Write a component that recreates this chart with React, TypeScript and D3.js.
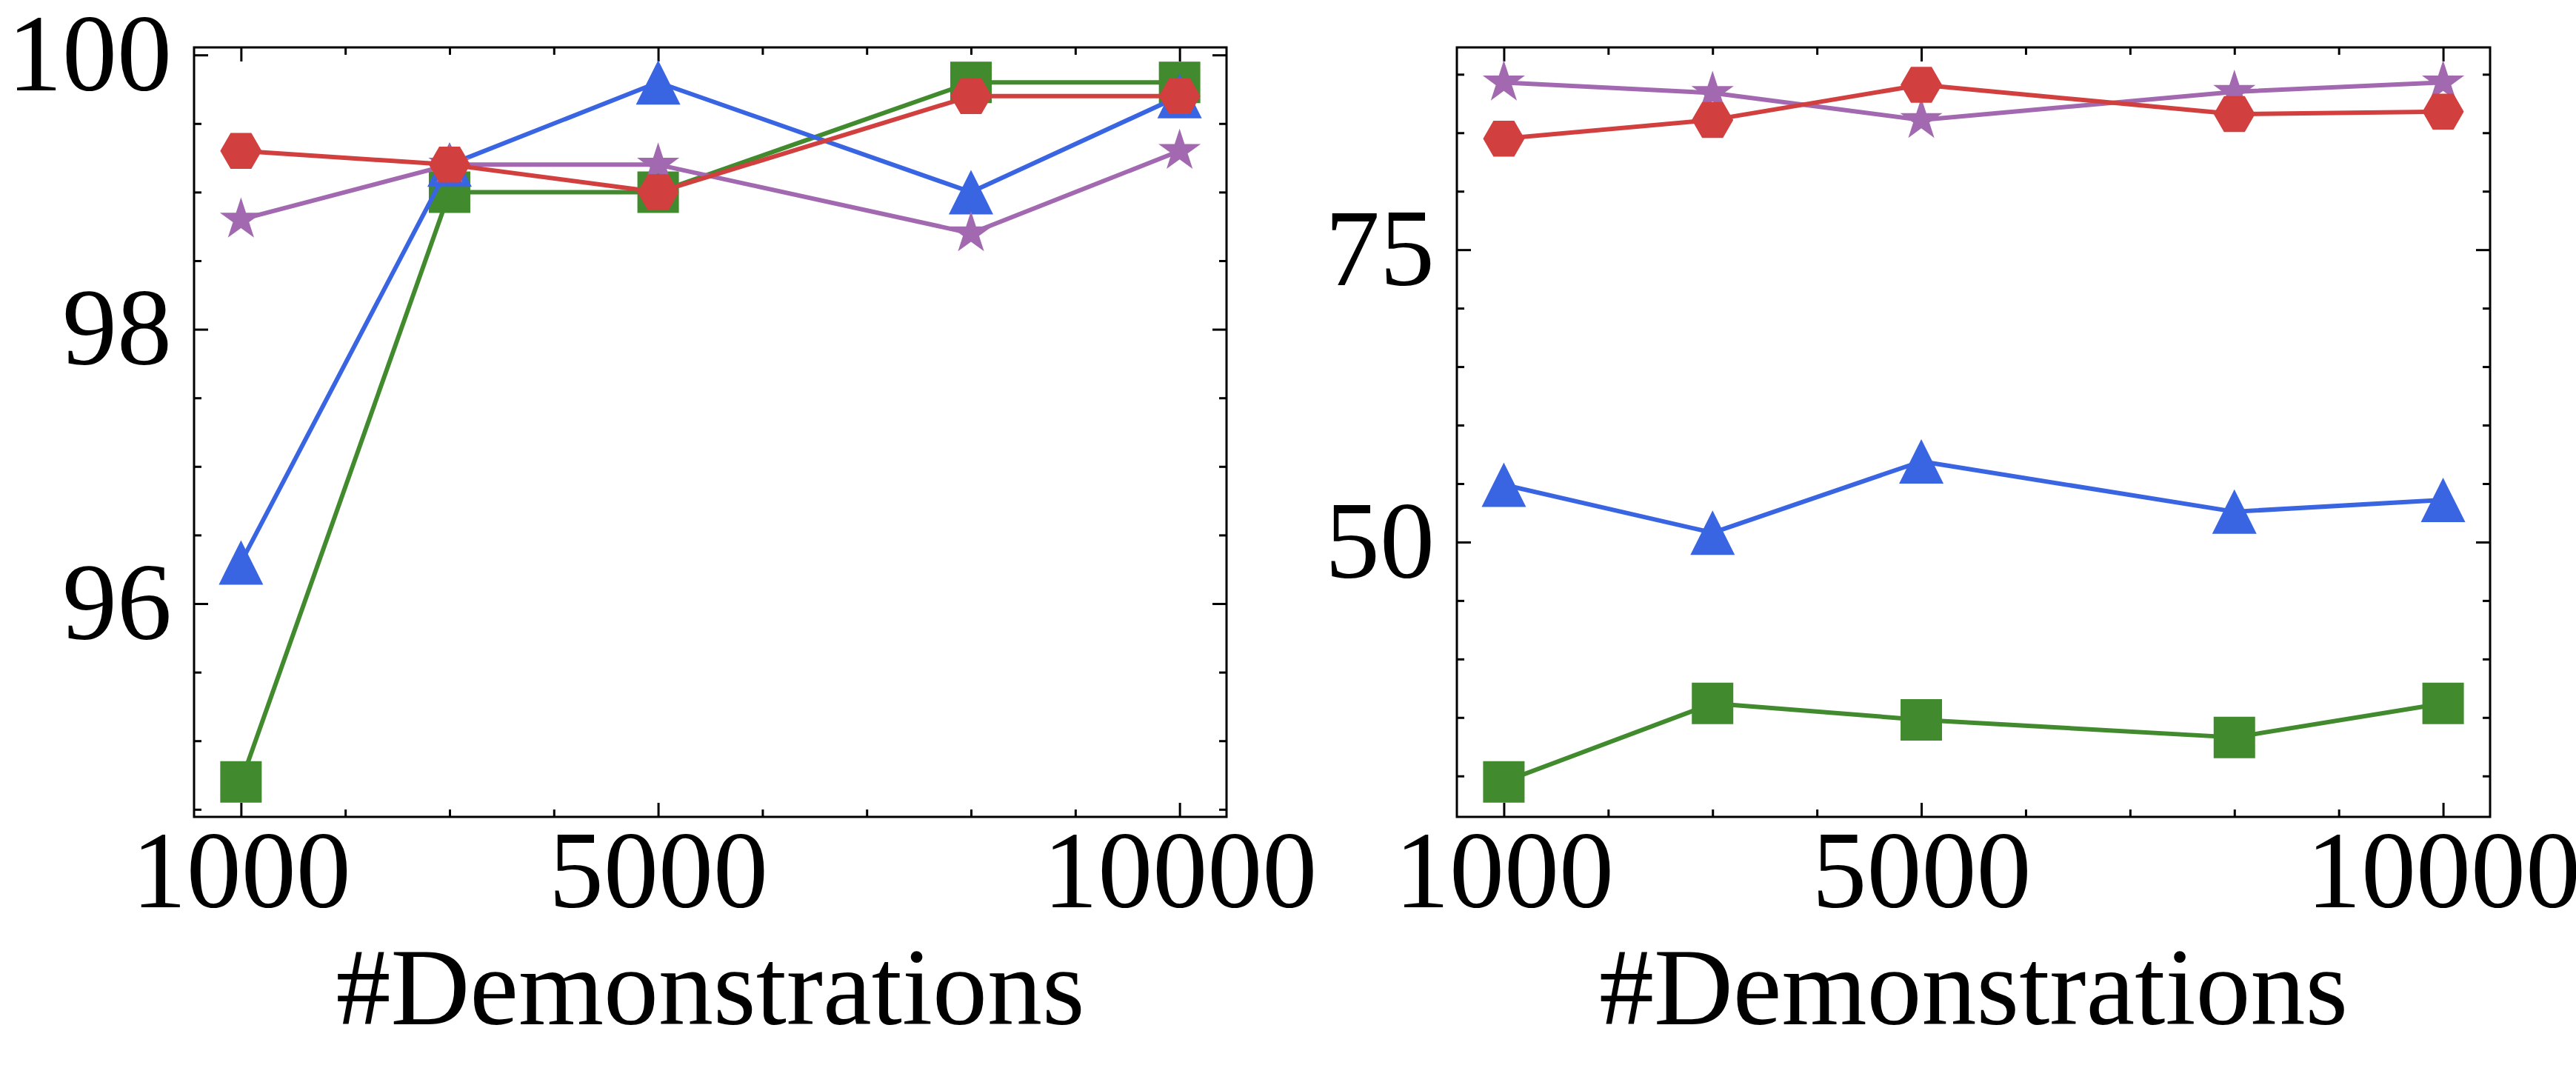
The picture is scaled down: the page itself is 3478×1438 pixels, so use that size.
import React, { useRef, useEffect } from 'react';
import * as d3 from 'd3';

// x values shared by both panels
const demonstrations = [1000, 3000, 5000, 8000, 10000];
const xTickLabels = [1000, 5000, 10000];

// left panel
const leftSquares = [94.7, 99.0, 99.0, 99.8, 99.8];
const leftTriangles = [96.3, 99.2, 99.8, 99.0, 99.7];
const leftStars = [98.8, 99.2, 99.2, 98.7, 99.3];
const leftHexagons = [99.3, 99.2, 99.0, 99.7, 99.7];
const leftYTicks = [96, 98, 100];

// right panel
const rightSquares = [29.5, 36.2, 34.8, 33.3, 36.2];
const rightTriangles = [54.9, 50.8, 56.9, 52.6, 53.6];
const rightStars = [89.3, 88.4, 86.1, 88.5, 89.3];
const rightHexagons = [84.5, 86.1, 89.1, 86.6, 86.8];
const rightYTicks = [50, 75];

const xLabel = '#Demonstrations';

const W = 3478;
const H = 1438;
const TOP = 64;
const BOTTOM = 1103;
const FONT = "'Liberation Serif', 'Times New Roman', Times, serif";

const colors = {
  square: '#428a2e',
  triangle: '#3a65e2',
  star: '#a269b0',
  hexagon: '#d13f3f',
};

// marker paths centred on 0,0
const markerPath = (shape: string) => {
  if (shape === 'square') return 'M-28,-28H28V28H-28Z';
  if (shape === 'triangle') return 'M0,-30L30,30L-30,30Z';
  if (shape === 'hexagon') {
    const pts = d3.range(6).map((i) => {
      const a = (i * Math.PI) / 3;
      return [28 * Math.cos(a), 28 * Math.sin(a)] as [number, number];
    });
    return d3.line()(pts) + 'Z';
  }
  // star
  const pts = d3.range(10).map((i) => {
    const r = i % 2 === 0 ? 30 : 30 * 0.382;
    const a = -Math.PI / 2 + (i * Math.PI) / 5;
    return [r * Math.cos(a), r * Math.sin(a)] as [number, number];
  });
  return d3.line()(pts) + 'Z';
};

const panels = [
  {
    left: 262,
    right: 1656,
    yDomain: [94.445, 100.055],
    yTicks: leftYTicks,
    yMinor: d3.range(94.5, 100.01, 0.5),
    series: [
      { shape: 'square', values: leftSquares },
      { shape: 'triangle', values: leftTriangles },
      { shape: 'star', values: leftStars },
      { shape: 'hexagon', values: leftHexagons },
    ],
  },
  {
    left: 1967,
    right: 3362,
    yDomain: [26.5, 92.3],
    yTicks: rightYTicks,
    yMinor: d3.range(30, 91, 5),
    series: [
      { shape: 'square', values: rightSquares },
      { shape: 'triangle', values: rightTriangles },
      { shape: 'star', values: rightStars },
      { shape: 'hexagon', values: rightHexagons },
    ],
  },
];

const App = () => {
  const ref = useRef(null);

  useEffect(() => {
    if (!ref.current) return;
    const svg = d3.select(ref.current);
    svg.selectAll('*').remove();
    svg.attr('width', W).attr('height', H);
    svg.append('rect').attr('width', W).attr('height', H).attr('fill', 'white');

    const xMinor = d3.range(1000, 10001, 1000);

    panels.forEach((p) => {
      const x = d3.scaleLinear().domain([550, 10450]).range([p.left, p.right]);
      const y = d3.scaleLinear().domain(p.yDomain).range([BOTTOM, TOP]);
      const g = svg.append('g');

      const styleAxis = (a: any) => {
        a.select('.domain').remove();
        a.selectAll('line').attr('stroke', 'black').attr('stroke-width', 3);
        a.selectAll('text')
          .attr('font-family', FONT)
          .attr('font-size', 148)
          .attr('fill', 'black');
      };

      // minor ticks
      const minorX = xMinor.filter((v) => !xTickLabels.includes(v));
      const minorY = p.yMinor.filter((v) => !p.yTicks.includes(v));
      g.append('g')
        .attr('transform', `translate(0,${BOTTOM})`)
        .call(d3.axisBottom(x).tickValues(minorX).tickSize(-10).tickSizeOuter(0).tickFormat(() => ''))
        .call(styleAxis);
      g.append('g')
        .attr('transform', `translate(0,${TOP})`)
        .call(d3.axisTop(x).tickValues(minorX).tickSize(-10).tickSizeOuter(0).tickFormat(() => ''))
        .call(styleAxis);
      g.append('g')
        .attr('transform', `translate(${p.left},0)`)
        .call(d3.axisLeft(y).tickValues(minorY).tickSize(-10).tickSizeOuter(0).tickFormat(() => ''))
        .call(styleAxis);
      g.append('g')
        .attr('transform', `translate(${p.right},0)`)
        .call(d3.axisRight(y).tickValues(minorY).tickSize(-10).tickSizeOuter(0).tickFormat(() => ''))
        .call(styleAxis);

      // major ticks + labels
      g.append('g')
        .attr('transform', `translate(0,${BOTTOM})`)
        .call(d3.axisBottom(x).tickValues(xTickLabels).tickSize(-19).tickSizeOuter(0).tickPadding(17).tickFormat(d3.format('d')))
        .call(styleAxis);
      g.append('g')
        .attr('transform', `translate(0,${TOP})`)
        .call(d3.axisTop(x).tickValues(xTickLabels).tickSize(-19).tickSizeOuter(0).tickFormat(() => ''))
        .call(styleAxis);
      g.append('g')
        .attr('transform', `translate(${p.left},0)`)
        .call(d3.axisLeft(y).tickValues(p.yTicks).tickSize(-19).tickSizeOuter(0).tickPadding(30).tickFormat(d3.format('d')))
        .call(styleAxis);
      g.append('g')
        .attr('transform', `translate(${p.right},0)`)
        .call(d3.axisRight(y).tickValues(p.yTicks).tickSize(-19).tickSizeOuter(0).tickFormat(() => ''))
        .call(styleAxis);

      // series: line then markers, in plotting order
      const line = d3
        .line<number>()
        .x((_, i) => x(demonstrations[i]))
        .y((d) => y(d));
      p.series.forEach((s) => {
        const c = (colors as any)[s.shape];
        g.append('path')
          .attr('d', line(s.values))
          .attr('fill', 'none')
          .attr('stroke', c)
          .attr('stroke-width', 6)
          .attr('stroke-linejoin', 'round');
        g.append('g')
          .selectAll('path')
          .data(s.values)
          .enter()
          .append('path')
          .attr('d', markerPath(s.shape))
          .attr('transform', (d, i) => `translate(${x(demonstrations[i])},${y(d)})`)
          .attr('fill', c);
      });

      // frame
      g.append('rect')
        .attr('x', p.left)
        .attr('y', TOP)
        .attr('width', p.right - p.left)
        .attr('height', BOTTOM - TOP)
        .attr('fill', 'none')
        .attr('stroke', 'black')
        .attr('stroke-width', 3);

      // x title
      g.append('text')
        .text(xLabel)
        .attr('x', (p.left + p.right) / 2)
        .attr('y', 1383)
        .attr('text-anchor', 'middle')
        .attr('font-family', FONT)
        .attr('font-size', 148)
        .attr('fill', 'black');
    });
  }, []);

  return <svg ref={ref} style={{ position: 'absolute', left: 0, top: 0, display: 'block' }} />;
};

export default App;
